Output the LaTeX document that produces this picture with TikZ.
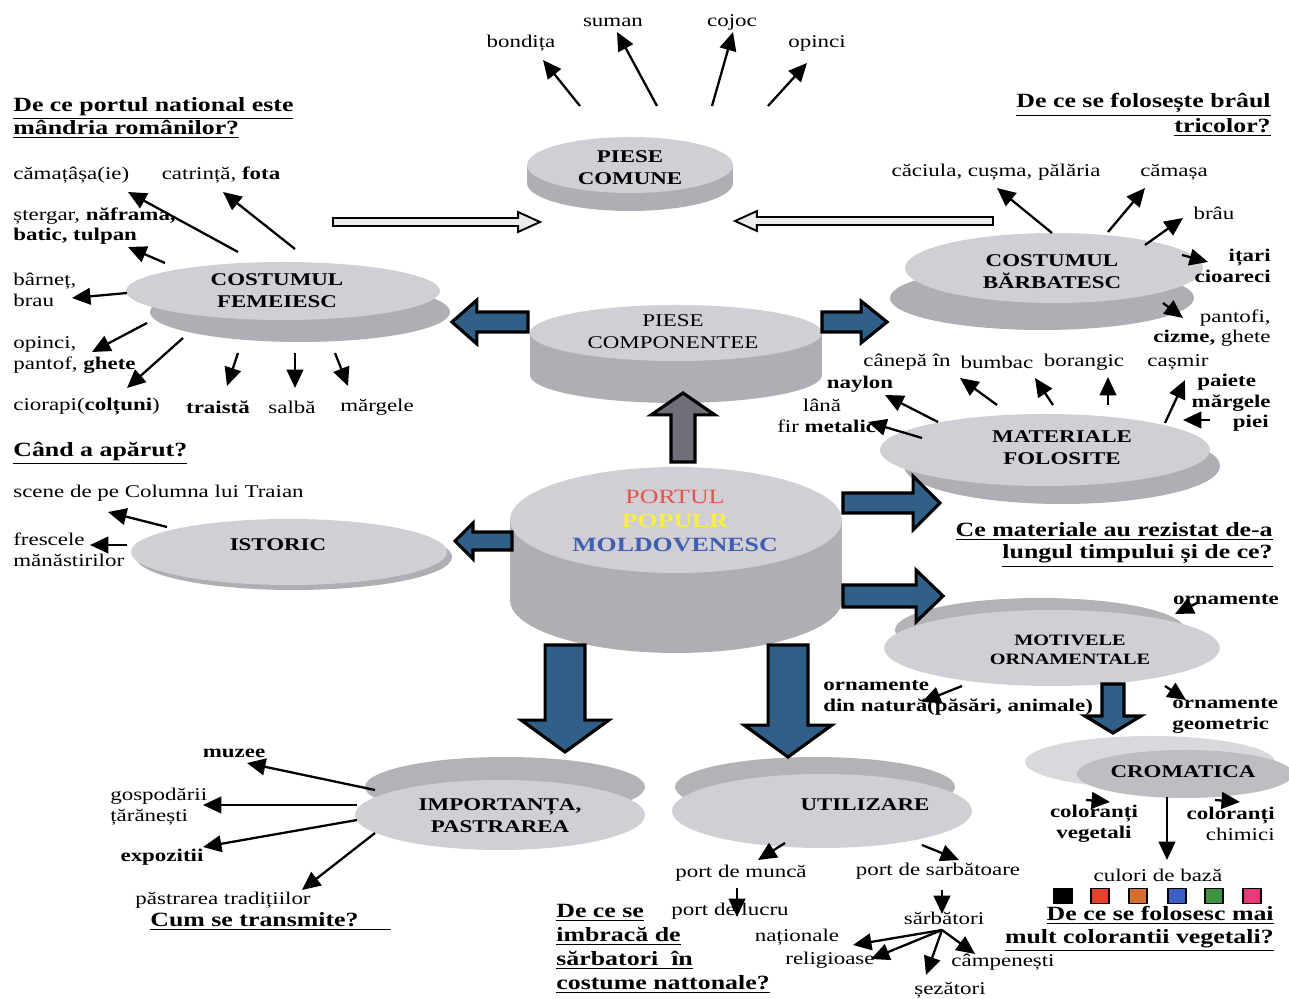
\documentclass[tikz,border=0pt]{standalone}
\usepackage{fontspec}
\setmainfont{Liberation Serif}[FakeStretch=1.28]
\usetikzlibrary{arrows.meta,calc,shapes.geometric}
\newdimen\pxu \pxu=0.02cm
\definecolor{dtop}{RGB}{210,206,213}
\definecolor{dside}{RGB}{176,173,180}
\definecolor{dback}{RGB}{180,177,183}
\definecolor{cfront}{RGB}{192,188,196}
\definecolor{barrow}{RGB}{48,96,136}
\definecolor{garrow}{RGB}{112,110,120}
\definecolor{pred}{RGB}{226,86,74}
\definecolor{pyel}{RGB}{246,240,70}
\definecolor{pblue}{RGB}{62,96,178}
\newcommand\lblfont{\fontsize{10.2}{11.8}\selectfont}
\newcommand\elfont{\fontsize{10.2}{12.4}\selectfont\bfseries}
\newcommand\hdfont{\fontsize{11.5}{12.8}\selectfont\bfseries}
\newcommand\conn[3]{\coordinate (#1s) at (#2); \coordinate (#1e) at (#3); \draw[arr] (#1s) -- (#1e);}
\newcommand\blockarr[6]{%
 \pgfmathsetlengthmacro\bsw{#4*0.5669pt}%
 \pgfmathsetlengthmacro\bhw{#5*0.5669pt}%
 \pgfmathsetlengthmacro\bhl{#6*0.5669pt}%
 \coordinate (BAn) at ($(#3)!\bhl!(#2)$);
 \draw[#1] ($(#2)!\bsw!90:(#3)$) -- ($(BAn)!\bsw!90:(#3)$) -- ($(BAn)!\bhw!90:(#3)$) -- (#3) -- ($(BAn)!\bhw!-90:(#3)$) -- ($(BAn)!\bsw!-90:(#3)$) -- ($(#2)!\bsw!-90:(#3)$) -- cycle;}
\newcommand\cyl[6]{%
 \fill[dside] (#2-#4,#3) rectangle (#2+#4,#3+#6);
 \fill[dside] (#2,#3+#6) ellipse [x radius=#4*\pxu, y radius=#5*\pxu];
 \node[dface, minimum width=2*#4*\pxu, minimum height=2*#5*\pxu] (#1) at (#2,#3) {};}
\begin{document}
\begin{tikzpicture}[x=0.02cm, y=-0.02cm,
  dface/.style={ellipse, fill=dtop, inner sep=0pt},
  lbl/.style={font=\lblfont, inner sep=0pt, align=left},
  lbll/.style={lbl, anchor=west},
  lblr/.style={lbl, align=right, anchor=east},
  etxt/.style={font=\elfont, inner sep=0pt, align=center},
  hd/.style={font=\hdfont, inner sep=0pt},
  arr/.style={line width=1.3pt, -{Triangle[length=10.5pt,width=9.5pt]}},
  bluearr/.style={fill=barrow, draw=black, line width=1.8pt, line join=miter},
  grayarr/.style={fill=garrow, draw=black, line width=1.8pt, line join=miter},
  hollowarr/.style={fill=gray!15, draw=black, line width=1.1pt, line join=miter},
  sq/.style={draw, line width=1pt, minimum width=10pt, minimum height=8.5pt, inner sep=0pt}]
\useasboundingbox (0,0) rectangle (1289,999);
\fill[white] (0,0) rectangle (1289,999);

% ---------- discs ----------
\cyl{pcom}{630}{165}{103}{28}{18}
\fill[dside] (300,312) ellipse [x radius=150*\pxu, y radius=30*\pxu];
\node[dface, minimum width=314*\pxu, minimum height=58*\pxu] (fem) at (283,291) {};
\fill[dside] (1042,298) ellipse [x radius=152*\pxu, y radius=32*\pxu];
\node[dface, minimum width=298*\pxu, minimum height=70*\pxu] (barb) at (1054,268) {};
\cyl{pcomp}{676}{333}{146}{28}{42}
\cyl{port}{676}{520}{166}{53}{80}
\fill[dside] (294,557) ellipse [x radius=158*\pxu, y radius=33*\pxu];
\node[dface, minimum width=316*\pxu, minimum height=66*\pxu] (ist) at (289,552) {};
\fill[dside] (1062,466) ellipse [x radius=158*\pxu, y radius=38*\pxu];
\node[dface, minimum width=330*\pxu, minimum height=72*\pxu] (mat) at (1045,450) {};
\fill[dback] (1040,630) ellipse [x radius=145*\pxu, y radius=32*\pxu];
\node[dface, minimum width=336*\pxu, minimum height=76*\pxu] (mot) at (1052,648) {};
\fill[dtop!80!white] (1150,762) ellipse [x radius=125*\pxu, y radius=26*\pxu];
\node[dface, fill=cfront, minimum width=216*\pxu, minimum height=48*\pxu] (crom) at (1185,774) {};
\fill[dback] (505,787) ellipse [x radius=140*\pxu, y radius=30*\pxu];
\node[dface, minimum width=290*\pxu, minimum height=70*\pxu] (imp) at (500,815) {};
\fill[dback] (815,787) ellipse [x radius=140*\pxu, y radius=30*\pxu];
\node[dface, minimum width=300*\pxu, minimum height=74*\pxu] (util) at (822,811) {};

% ---------- block arrows ----------
\coordinate (h1s) at (333,222); \coordinate (h1e) at (540,222);
\blockarr{hollowarr}{h1s}{h1e}{4}{10}{22}
\coordinate (h2s) at (993,221); \coordinate (h2e) at (735,221);
\blockarr{hollowarr}{h2s}{h2e}{4}{10}{22}
\coordinate (b1s) at (528,322); \coordinate (b1e) at (452,322);
\blockarr{bluearr}{b1s}{b1e}{10}{22}{25}
\coordinate (b2s) at (822,322); \coordinate (b2e) at (887,322);
\blockarr{bluearr}{b2s}{b2e}{10}{21}{26}
\coordinate (g1s) at (683,462); \coordinate (g1e) at (683,393);
\blockarr{grayarr}{g1s}{g1e}{12}{32}{22}
\coordinate (b3s) at (512,541); \coordinate (b3e) at (455,541);
\blockarr{bluearr}{b3s}{b3e}{9}{18}{18}
\coordinate (b4s) at (843,503); \coordinate (b4e) at (940,503);
\blockarr{bluearr}{b4s}{b4e}{10}{27}{27}
\coordinate (b5s) at (843,596); \coordinate (b5e) at (943,596);
\blockarr{bluearr}{b5s}{b5e}{11}{26}{27}
\coordinate (b6s) at (565,645); \coordinate (b6e) at (565,752);
\blockarr{bluearr}{b6s}{b6e}{20}{44}{32}
\coordinate (b7s) at (788,645); \coordinate (b7e) at (788,757);
\blockarr{bluearr}{b7s}{b7e}{20}{44}{32}
\coordinate (b8s) at (1113,684); \coordinate (b8e) at (1113,733);
\blockarr{bluearr}{b8s}{b8e}{11}{28}{17}

% ---------- disc texts ----------
\node[etxt] (pcomt) at (630,168) {PIESE\\COMUNE};
\node[etxt] (femt) at (277,291) {COSTUMUL\\FEMEIESC};
\node[etxt] (barbt) at (1052,272) {COSTUMUL\\BĂRBATESC};
\node[etxt, font=\elfont\mdseries] (pcompt) at (673,332) {PIESE\\COMPONENTEE};
\node[etxt, font=\fontsize{11.5}{13.6}\selectfont\bfseries] (portt) at (675,521)
  {\textcolor{pred}{\mdseries PORTUL}\\\textcolor{pyel}{POPULR}\\\textcolor{pblue}{MOLDOVENESC}};
\node[etxt] (istt) at (278,545) {ISTORIC};
\node[etxt] (matt) at (1062,448) {MATERIALE\\FOLOSITE};
\node[etxt, font=\fontsize{9}{11}\selectfont\bfseries] (mott) at (1070,650) {MOTIVELE\\ORNAMENTALE};
\node[etxt] (cromt) at (1183,772) {CROMATICA};
\node[etxt] (impt) at (500,816) {IMPORTANȚA,\\PASTRAREA};
\node[etxt] (utilt) at (865,805) {UTILIZARE};

% ---------- top ----------
\node[lbl] (l1) at (521,43) {bondița};
\node[lbl] (l2) at (613,22) {suman};
\node[lbl] (l3) at (732,22) {cojoc};
\node[lbl] (l4) at (817,43) {opinci};
\conn{a1}{580,106}{543,60}
\conn{a2}{657,106}{617,32}
\conn{a3}{712,106}{733,32}
\conn{a4}{768,106}{807,63}

% ---------- women ----------
\node[hd, anchor=west, align=left] (q1) at (13,118) {\underline{De ce portul national este}\\\underline{mândria românilor?}};
\node[lbll] (w1) at (13,175) {cămațâșa(ie)};
\node[lbl] (w2) at (221,175) {catrință, \textbf{fota}};
\node[lbll] (w3) at (13,226) {ștergar, \textbf{năframa,}\\\textbf{batic, tulpan}};
\node[lbll] (w4) at (13,290) {bârneț,\\brau};
\node[lbll] (w5) at (13,355) {opinci,\\pantof, \textbf{ghete}};
\node[lbll] (w6) at (13,407) {ciorapi(\textbf{colțuni})};
\node[lbl] (w7) at (218,407) {\textbf{traistă}};
\node[lbl] (w8) at (292,407) {salbă};
\node[lbl] (w9) at (377,407) {mărgele};
\conn{c1}{238,252}{128,192}
\conn{c2}{295,249}{223,192}
\conn{c3}{165,263}{128,247}
\conn{c4}{127,293}{72,298}
\conn{c5}{147,323}{92,352}
\conn{c6}{183,338}{127,388}
\conn{c7}{238,353}{227,386}
\conn{c8}{295,353}{295,388}
\conn{c9}{335,353}{348,386}

% ---------- men ----------
\node[hd, anchor=east, align=right] (q2) at (1271,115) {\underline{De ce se folosește brâul}\\\underline{tricolor?}};
\node[lbl] (m1) at (996,172) {căciula, cușma, pălăria};
\node[lbl] (m2) at (1174,172) {cămașa};
\node[lbl] (m3) at (1214,213) {brâu};
\node[lblr] (m4) at (1271,266) {\textbf{ițari}\\\textbf{cioareci}};
\node[lblr] (m5) at (1271,328) {pantofi,\\\textbf{cizme,} ghete};
\conn{d1}{1052,233}{997,188}
\conn{d2}{1108,232}{1145,188}
\conn{d3}{1145,245}{1183,218}
\conn{d4}{1182,255}{1208,262}
\conn{d5}{1163,303}{1183,318}

% ---------- materials ----------
\node[lbl] (t1) at (907,362) {cânepă în};
\node[lbl] (t2) at (997,362) {bumbac};
\node[lbl] (t3) at (1084,362) {borangic};
\node[lbl] (t4) at (1178,362) {cașmir};
\node[lbl] (t5) at (860,384) {\textbf{naylon}};
\node[lbl] (t6) at (822,405) {lână};
\node[lbll] (t7) at (777,426) {fir \textbf{metalic}};
\node[lbll] (t8) at (1197,382) {\textbf{paiete}};
\node[lblr] (t9) at (1271,403) {\textbf{mărgele}};
\node[lblr] (t10) at (1269,423) {\textbf{piei}};
\node[hd, anchor=east, align=right] (q3) at (1273,545) {\underline{Ce materiale au rezistat de-a}\\\underline{lungul timpului și de ce?}};
\conn{e1}{938,422}{885,395}
\conn{e2}{922,438}{868,422}
\conn{e3}{997,405}{960,378}
\conn{e4}{1053,405}{1035,378}
\conn{e5}{1108,405}{1108,377}
\conn{e6}{1165,423}{1185,380}
\conn{e7}{1210,420}{1183,420}

% ---------- istoric ----------
\node[hd, anchor=west] (q4) at (13,453) {\underline{Când a apărut?}};
\node[lbll] (i1) at (13,493) {scene de pe Columna lui Traian};
\node[lbll] (i2) at (13,550) {frescele\\mănăstirilor};
\conn{f1}{167,527}{108,512}
\conn{f2}{127,545}{90,545}

% ---------- motivele ----------
\node[lbl] (o1) at (1226,600) {\textbf{ornamente}};
\node[lbll] (o2) at (823,698) {\textbf{ornamente}\\\textbf{din natură(păsări, animale)}};
\node[lbll] (o3) at (1172,716) {\textbf{ornamente}\\\textbf{geometric}};
\conn{g1}{1197,603}{1175,614}
\conn{g2}{962,686}{922,702}
\conn{g3}{1165,686}{1186,700}

% ---------- cromatica ----------
\node[lbl, align=center] (k1) at (1094,824) {\textbf{coloranți}\\\textbf{vegetali}};
\node[lblr] (k2) at (1275,824) {\textbf{coloranți}\\chimici};
\node[lbl] (k3) at (1158,875) {culori de bază};
\node[sq, fill=black] (s1) at (1063,896) {};
\node[sq, fill={rgb,255:red,232;green,65;blue,43}] (s2) at (1100,896) {};
\node[sq, fill={rgb,255:red,212;green,110;blue,46}] (s3) at (1138,896) {};
\node[sq, fill={rgb,255:red,59;green,95;blue,196}] (s4) at (1177,896) {};
\node[sq, fill={rgb,255:red,62;green,148;blue,67}] (s5) at (1214,896) {};
\node[sq, fill={rgb,255:red,232;green,58;blue,122}] (s6) at (1252,896) {};
\node[hd, anchor=east, align=right] (q5) at (1274,929) {\underline{De ce se folosesc mai}\\\underline{mult colorantii vegetali?}};
\conn{k1a}{1086,800}{1110,802}
\conn{k2a}{1215,800}{1240,802}
\conn{k3a}{1167,797}{1167,860}

% ---------- importanta ----------
\node[lbl] (p1) at (234,753) {\textbf{muzee}};
\node[lbll] (p2) at (110,807) {gospodării\\țărănești};
\node[lbl] (p3) at (162,857) {\textbf{expozitii}};
\node[lbl] (p4) at (223,900) {păstrarea tradițiilor};
\node[hd, anchor=west] (q6) at (150,921) {\underline{Cum se transmite?\hspace*{1.6em}}};
\conn{r1}{375,790}{247,763}
\conn{r2}{357,805}{203,805}
\conn{r3}{357,820}{203,847}
\conn{r4}{375,833}{302,890}

% ---------- utilizare ----------
\node[lbl] (u1) at (741,873) {port de muncă};
\node[lbl] (u2) at (938,871) {port de sarbătoare};
\node[lbl] (u3) at (730,911) {port de lucru};
\node[hd, anchor=west, align=left, font=\fontsize{11.5}{13.6}\selectfont\bfseries] (q7) at (556,949)
  {\underline{De ce se}\\\underline{imbracă de}\\\underline{sărbatori\ \ în}\\\underline{costume nattonale?}};
\node[lbl] (u4) at (944,918) {sărbători};
\node[lbl] (u5) at (797,937) {naționale};
\node[lbl] (u6) at (830,960) {religioase};
\node[lbl] (u7) at (1003,962) {câmpenești};
\node[lbl] (u8) at (950,990) {șezători};
\conn{v1}{785,843}{758,860}
\conn{v2}{922,845}{959,860}
\conn{v3}{737,888}{737,917}
\conn{v4}{942,890}{942,914}
\coordinate (vh) at (942,930);
\coordinate (vn) at (853,945); \draw[arr] (vh) -- (vn);
\coordinate (vr) at (871,959); \draw[arr] (vh) -- (vr);
\coordinate (vs) at (926,975); \draw[arr] (vh) -- (vs);
\coordinate (vc) at (975,954); \draw[arr] (vh) -- (vc);
\end{tikzpicture}
\end{document}
